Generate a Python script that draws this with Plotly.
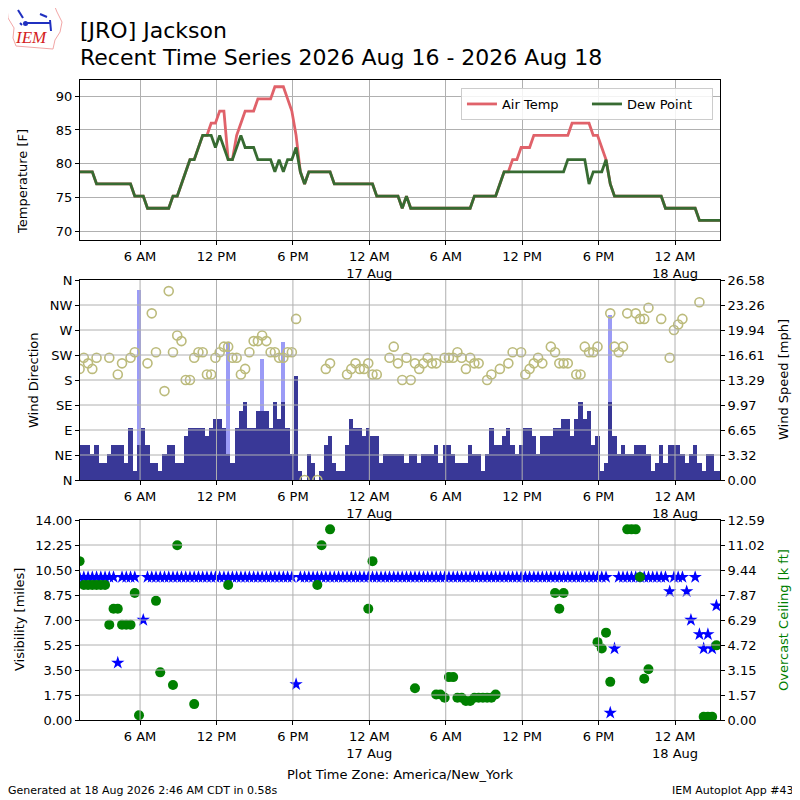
import pandas as pd
import plotly.graph_objects as go

N = None

# observations every 20 minutes, 2026-08-16 01:15 EDT onward
obs_times = pd.date_range("2026-08-16 01:15", periods=152, freq="20min")
x_range = ["2026-08-16 01:17", "2026-08-18 03:32"]

tick_vals = ["2026-08-16 06:00", "2026-08-16 12:00", "2026-08-16 18:00",
             "2026-08-17 00:00", "2026-08-17 06:00", "2026-08-17 12:00",
             "2026-08-17 18:00", "2026-08-18 00:00"]
tick_text = ["6 AM", "12 PM", "6 PM", "12 AM<br>17 Aug",
             "6 AM", "12 PM", "6 PM", "12 AM<br>18 Aug"]

air_temp = [
    78.8, 78.8, 78.8, 78.8, 77, 77, 77, 77, 77, 77,
    77, 77, 77, 75.2, 75.2, 75.2, 73.4, 73.4, 73.4, 73.4,
    73.4, 73.4, 75.2, 75.2, 77, 78.8, 80.6, 80.6, 82.4, 84.2,
    84.2, 86, 86, 87.8, 87.8, 80.6, 80.6, 84.2, 86, 87.8,
    87.8, 87.8, 89.6, 89.6, 89.6, 89.6, 91.4, 91.4, 91.4, 89.6,
    87.8, 84.2, 78.8, 77, 78.8, 78.8, 78.8, 78.8, 78.8, 78.8,
    77, 77, 77, 77, 77, 77, 77, 77, 77, 77,
    75.2, 75.2, 75.2, 75.2, 75.2, 75.2, 73.4, 75.2, 73.4, 73.4,
    73.4, 73.4, 73.4, 73.4, 73.4, 73.4, 73.4, 73.4, 73.4, 73.4,
    73.4, 73.4, 73.4, 75.2, 75.2, 75.2, 75.2, 75.2, 75.2, 77,
    78.8, 78.8, 80.6, 80.6, 82.4, 82.4, 82.4, 84.2, 84.2, 84.2,
    84.2, 84.2, 84.2, 84.2, 84.2, 84.2, 86, 86, 86, 86,
    86, 84.2, 84.2, 82.4, 80.6, 77, 75.2, 75.2, 75.2, 75.2,
    75.2, 75.2, 75.2, 75.2, 75.2, 75.2, 75.2, 75.2, 73.4, 73.4,
    73.4, 73.4, 73.4, 73.4, 73.4, 73.4, 71.6, 71.6, 71.6, 71.6,
    71.6, 71.6,
]

dew_point = [
    78.8, 78.8, 78.8, 78.8, 77, 77, 77, 77, 77, 77,
    77, 77, 77, 75.2, 75.2, 75.2, 73.4, 73.4, 73.4, 73.4,
    73.4, 73.4, 75.2, 75.2, 77, 78.8, 80.6, 80.6, 82.4, 84.2,
    84.2, 84.2, 82.4, 84.2, 82.4, 80.6, 80.6, 82.4, 84.2, 82.4,
    82.4, 82.4, 80.6, 80.6, 80.6, 80.6, 78.8, 80.6, 78.8, 80.6,
    80.6, 82.4, 78.8, 77, 78.8, 78.8, 78.8, 78.8, 78.8, 78.8,
    77, 77, 77, 77, 77, 77, 77, 77, 77, 77,
    75.2, 75.2, 75.2, 75.2, 75.2, 75.2, 73.4, 75.2, 73.4, 73.4,
    73.4, 73.4, 73.4, 73.4, 73.4, 73.4, 73.4, 73.4, 73.4, 73.4,
    73.4, 73.4, 73.4, 75.2, 75.2, 75.2, 75.2, 75.2, 75.2, 77,
    78.8, 78.8, 78.8, 78.8, 78.8, 78.8, 78.8, 78.8, 78.8, 78.8,
    78.8, 78.8, 78.8, 78.8, 78.8, 80.6, 80.6, 80.6, 80.6, 80.6,
    77, 78.8, 78.8, 78.8, 80.6, 77, 75.2, 75.2, 75.2, 75.2,
    75.2, 75.2, 75.2, 75.2, 75.2, 75.2, 75.2, 75.2, 73.4, 73.4,
    73.4, 73.4, 73.4, 73.4, 73.4, 73.4, 71.6, 71.6, 71.6, 71.6,
    71.6, 71.6,
]

wind_speed_mph = [
    4.6, 4.6, 4.6, 3.5, 4.6, 2.3, 2.3, 3.5, 4.6, 4.6,
    4.6, 2.3, 6.9, 1.2, 4.6, 6.9, 4.6, 2.3, 2.3, 1.2,
    3.5, 4.6, 4.6, 2.3, 2.3, 5.8, 6.9, 6.9, 6.9, 6.9,
    5.8, 6.9, 8.1, 8.1, 6.9, 3.5, 2.3, 6.9, 9.2, 10.4,
    6.9, 6.9, 9.2, 9.2, 9.2, 6.9, 10.4, 8.1, 10.4, 6.9,
    3.5, 13.8, 1.2, 0.0, 3.5, 2.3, 0.0, 1.2, 4.6, 5.8,
    2.3, 1.2, 1.2, 4.6, 8.1, 6.9, 6.9, 5.8, 6.9, 5.8,
    5.8, 2.3, 3.5, 3.5, 3.5, 3.5, 3.5, 2.3, 3.5, 3.5,
    2.3, 3.5, 3.5, 3.5, 4.6, 2.3, 4.6, 4.6, 3.5, 2.3,
    2.3, 2.3, 4.6, 3.5, 3.5, 1.2, 3.5, 6.9, 4.6, 4.6,
    5.8, 6.9, 4.6, 3.5, 4.6, 6.9, 6.9, 5.8, 3.5, 5.8,
    5.8, 5.8, 6.9, 6.9, 8.1, 8.1, 5.8, 8.1, 10.4, 8.1,
    9.2, 4.6, 5.8, 1.2, 2.3, 10.4, 5.8, 3.5, 4.6, 3.5,
    3.5, 4.6, 4.6, 4.6, 3.5, 1.2, 2.3, 4.6, 2.3, 4.6,
    4.6, 4.6, 3.5, 2.3, 3.5, 4.6, 2.3, 1.2, 3.5, 3.5,
    1.2, 1.2,
]

wind_gust_mph = [
    N, N, N, N, N, N, N, N, N, N,
    N, N, N, N, 25.3, N, N, N, N, N,
    N, N, N, N, N, N, N, N, N, N,
    N, N, N, N, N, 18.4, N, N, N, N,
    N, N, N, 16.1, N, N, N, N, 18.4, N,
    N, N, N, N, N, N, N, N, N, N,
    N, N, N, N, N, N, N, N, N, N,
    N, N, N, N, N, N, N, N, N, N,
    N, N, N, N, N, N, N, N, N, N,
    N, N, N, N, N, N, N, N, N, N,
    N, N, N, N, N, N, N, N, N, N,
    N, N, N, N, N, N, N, N, N, N,
    N, N, N, N, N, 21.9, N, N, N, N,
    N, N, N, N, N, N, N, N, N, N,
    N, N, N, N, N, N, N, N, N, N,
    N, N,
]

wind_dir = [
    200, 220, 210, 200, 220, N, N, 220, N, 190,
    210, N, 220, 230, N, N, 210, 300, 230, N,
    160, 340, 230, 260, 250, 180, 180, 220, 230, 230,
    190, 190, 220, 230, 240, 240, 220, 220, 190, 200,
    230, 250, 250, 260, 250, 230, 230, 220, 220, 230,
    230, 290, N, 0, N, N, 0, N, 200, 210,
    N, N, N, 190, 200, 210, 200, 200, 210, 190,
    190, N, N, 220, 240, 210, 180, 220, 180, 210,
    200, 210, 220, 210, 210, N, 220, 220, 220, 230,
    220, 200, 220, 210, 210, N, 180, 190, N, 200,
    N, 210, 230, N, 230, 190, 200, 210, 220, 210,
    N, 240, 230, 210, 210, 210, N, 190, 190, 240,
    230, 230, 240, N, N, 300, 240, 230, 240, 300,
    N, 300, 290, 290, 310, N, N, 290, N, 220,
    270, 280, 290, N, N, N, 320, N, N, N,
    N, N,
]

visibility = [
    10, 10, 10, 10, 10, 10, 10, 10, 10, 4,
    10, 10, 10, 10, N, 7, 10, 10, 10, 10,
    10, 10, 10, 10, 10, 10, 10, 10, 10, 10,
    10, 10, 10, 10, 10, 10, 10, 10, 10, 10,
    10, 10, 10, 10, 10, 10, 10, 10, 10, 10,
    10, 2.5, 10, 10, 10, 10, 10, 10, 10, 10,
    10, 10, 10, 10, 10, 10, 10, 10, 10, 10,
    10, 10, 10, 10, 10, 10, 10, 10, 10, 10,
    10, 10, 10, 10, 10, 10, 10, 10, 10, 10,
    10, 10, 10, 10, 10, 10, 10, 10, 10, 10,
    10, 10, 10, 10, 10, 10, 10, 10, 10, 10,
    10, 10, 10, 10, 10, 10, 10, 10, 10, 10,
    10, 10, 10, 10, 10, 0.5, 5, 10, 10, 10,
    10, 10, 10, 10, 10, 10, 10, 10, 10, 9,
    10, 10, 10, 9, 7, 10, 6, 5, 6, 5,
    8, N,
]

ceiling_kft = [
    10.0, 8.5, 8.5, 8.5, 8.5, 8.5, 8.5, 6.0, 7.0, 7.0,
    6.0, 6.0, 6.0, 8.0, 0.3, N, N, N, 7.5, 3.0,
    N, N, 2.2, 11.0, N, N, N, 1.0, N, N,
    N, N, N, N, N, 8.5, N, N, N, N,
    N, N, N, N, N, N, N, N, N, N,
    N, N, N, N, N, N, 8.5, 11.0, N, 12.0,
    N, N, N, N, N, N, N, N, 7.0, 10.0,
    N, N, N, N, N, N, N, N, N, 2.0,
    N, N, N, N, 1.6, 1.6, 1.4, 2.7, 2.7, 1.4,
    1.4, 1.2, 1.2, 1.4, 1.4, 1.4, 1.4, 1.4, 1.6, N,
    N, N, N, N, N, N, N, N, N, N,
    N, N, 8.0, 7.0, 8.0, N, N, N, N, N,
    N, N, 4.9, 4.5, 5.5, 2.4, N, N, N, 12.0,
    12.0, 12.0, 9.0, 2.6, 3.2, N, N, N, N, N,
    N, N, N, N, N, N, N, 0.2, 0.2, 0.2,
    4.7, N,
]

temp_ticks = [70, 75, 80, 85, 90]
dir_ticks = [0, 45, 90, 135, 180, 225, 270, 315, 360]
dir_labels = ["N", "NE", "E", "SE", "S", "SW", "W", "NW", "N"]
speed_labels = ["0.00", "3.32", "6.65", "9.97", "13.29", "16.61", "19.94", "23.26", "26.58"]
vis_labels = ["0.00", "1.75", "3.50", "5.25", "7.00", "8.75", "10.50", "12.25", "14.00"]
ceil_labels = ["0.00", "1.57", "3.15", "4.72", "6.29", "7.87", "9.44", "11.02", "12.59"]

SPEED_MAX = 26.58
CEIL_MAX = 12.59
FONT = "DejaVu Sans"
GRID = "#b0b0b0"

# the page body has an 8px margin, so the figure is 792 px and starts at (8, 8);
# plot area is then pixels 80..720 in both directions
PAGE_OFF = 8


def px(x, y):
    """pixel position in the 800x800 page -> paper coords"""
    return (x - 80) / 640, (720 - y) / 640


fig = go.Figure()

# --- temperatures
fig.add_trace(go.Scatter(x=obs_times, y=air_temp, mode="lines", name="Air Temp",
                         line=dict(color="#e0626a", width=2.8), xaxis="x", yaxis="y"))
fig.add_trace(go.Scatter(x=obs_times, y=dew_point, mode="lines", name="Dew Point",
                         line=dict(color="#376b32", width=2.8), xaxis="x", yaxis="y"))

# --- wind
bar_w = 20 * 60 * 1000
fig.add_trace(go.Bar(x=obs_times, y=wind_gust_mph, width=bar_w, marker_color="#9b9bf6",
                     marker_line_width=0, showlegend=False, xaxis="x2", yaxis="y2"))
fig.add_trace(go.Bar(x=obs_times, y=wind_speed_mph, width=bar_w, marker_color="#393897",
                     marker_line_width=0, showlegend=False, xaxis="x2", yaxis="y2"))
fig.add_trace(go.Scatter(x=obs_times, y=wind_dir, mode="markers", showlegend=False,
                         marker=dict(symbol="circle-open", size=9, color="#bcbb7c",
                                     line=dict(width=1.6, color="#bcbb7c")),
                         xaxis="x2", yaxis="y3"))

# --- visibility / ceiling
fig.add_trace(go.Scatter(x=obs_times, y=visibility, mode="markers", showlegend=False,
                         marker=dict(symbol="star", size=10, color="blue", line_width=0),
                         xaxis="x3", yaxis="y4"))
fig.add_trace(go.Scatter(x=obs_times, y=ceiling_kft, mode="markers", showlegend=False,
                         marker=dict(symbol="circle", size=10, color="green", line_width=0),
                         xaxis="x3", yaxis="y5"))

tickfont = dict(family=FONT, size=13, color="black")
xcommon = dict(type="date", range=x_range, tickmode="array", tickvals=tick_vals,
               ticktext=tick_text, ticks="outside", ticklen=4, tickcolor="black",
               showline=True, linecolor="black", mirror=True, tickfont=tickfont,
               zeroline=False)
ycommon = dict(ticks="outside", ticklen=4, tickcolor="black", showline=True,
               linecolor="black", tickfont=tickfont, zeroline=False)

fig.update_layout(
    width=800 - PAGE_OFF, height=800 - PAGE_OFF, autosize=False,
    margin=dict(l=80 - PAGE_OFF, r=80, t=80 - PAGE_OFF, b=80),
    paper_bgcolor="white", plot_bgcolor="white",
    barmode="overlay", bargap=0,
    font=dict(family=FONT, size=13, color="black"),
    xaxis=dict(xcommon, anchor="y", showgrid=True, gridcolor=GRID),
    xaxis2=dict(xcommon, anchor="y2", showgrid=False),
    xaxis3=dict(xcommon, anchor="y4", showgrid=False),
    yaxis=dict(ycommon, domain=[0.75, 1.0], range=[68.7, 92.4], tickvals=temp_ticks,
               mirror=True, showgrid=True, gridcolor=GRID, anchor="x"),
    yaxis2=dict(ycommon, domain=[0.375, 0.6875], range=[0, SPEED_MAX], side="right",
                tickmode="array", tickvals=[SPEED_MAX * k / 8 for k in range(9)],
                ticktext=speed_labels, showgrid=False, anchor="x2"),
    yaxis3=dict(ycommon, range=[0, 360], overlaying="y2", side="left", tickmode="array",
                tickvals=dir_ticks, ticktext=dir_labels, showgrid=False, anchor="x2"),
    yaxis4=dict(ycommon, domain=[0.0, 0.3125], range=[0, 14], tickmode="array",
                tickvals=[1.75 * k for k in range(9)], ticktext=vis_labels,
                showgrid=False, anchor="x3"),
    yaxis5=dict(ycommon, range=[0, CEIL_MAX], overlaying="y4", side="right",
                tickmode="array", tickvals=[CEIL_MAX * k / 8 for k in range(9)],
                ticktext=ceil_labels, showgrid=False, anchor="x3"),
    legend=dict(orientation="h", x=0.989, xanchor="right", y=0.9875, yanchor="top",
                bgcolor="rgba(255,255,255,0.85)", bordercolor="#cccccc", borderwidth=1,
                font=dict(family=FONT, size=13), itemwidth=30,
                entrywidth=80, entrywidthmode="pixels"),
)

# grid lines drawn above the bars/markers (matplotlib style) for lower panels
shapes = []
for xa, ya, yt in (("x2", "y2", [SPEED_MAX * k / 8 for k in range(1, 8)]),
                   ("x3", "y4", [1.75 * k for k in range(1, 8)])):
    for tv in tick_vals:
        shapes.append(dict(type="line", xref=xa, yref=ya + " domain", x0=tv, x1=tv,
                           y0=0, y1=1, line=dict(color=GRID, width=1), layer="above"))
    for v in yt:
        shapes.append(dict(type="line", xref=xa + " domain", yref=ya, x0=0, x1=1,
                           y0=v, y1=v, line=dict(color=GRID, width=1), layer="above"))

# IEM logo (rough outline of Iowa + lettering)
outline = [(7, 7), (55, 7), (57, 12), (62, 22), (60, 32), (55, 40), (53, 49),
           (16, 46), (13, 38), (14, 28), (8, 18)]
path = "M " + " L ".join(f"{px(a, b)[0]:.4f},{px(a, b)[1]:.4f}" for a, b in outline) + " Z"
shapes.append(dict(type="path", xref="paper", yref="paper", path=path,
                   line=dict(color="#f2a6a6", width=1), fillcolor="rgba(0,0,0,0)"))
for (a, b), (c, d) in (((25, 23), (50, 23)), ((18, 10), (23, 18)), ((40, 14), (47, 17)),
                       ((50, 20), (51, 31)), ((20, 23), (22, 25))):
    x0, y0 = px(a, b)
    x1, y1 = px(c, d)
    shapes.append(dict(type="line", xref="paper", yref="paper", x0=x0, y0=y0, x1=x1, y1=y1,
                       line=dict(color="#2030c0", width=2)))
cx0, cy0 = px(23, 21)
cx1, cy1 = px(28, 26)
shapes.append(dict(type="circle", xref="paper", yref="paper", x0=cx0, y0=cy0, x1=cx1, y1=cy1,
                   fillcolor="#2030c0", line_width=0))
fig.update_layout(shapes=shapes)


def note(text, x, y, size=13, color="black", angle=0, xanchor="center", family=FONT, **kw):
    px_, py_ = px(x, y)
    fig.add_annotation(text=text, x=px_, y=py_, xref="paper", yref="paper", showarrow=False,
                       textangle=angle, xanchor=xanchor, yanchor="middle",
                       font=dict(family=family, size=size, color=color), **kw)


note("[JRO] Jackson", 78, 31, size=22, xanchor="left")
note("Recent Time Series 2026 Aug 16 - 2026 Aug 18", 78, 57, size=22, xanchor="left")
note("<i>IEM</i>", 31, 37, size=17, color="#d42020", family="Liberation Serif")

note("Temperature [F]", 22, 182, angle=-90)
note("Wind Direction", 33, 380, angle=-90)
note("Wind Speed [mph]", 783, 380, angle=-90)
note("Visibility [miles]", 19, 620, angle=-90)
note("Overcast Ceiling [k ft]", 783, 620, angle=-90, color="green")
note("Plot Time Zone: America/New_York", 400, 774)
note("Generated at 18 Aug 2026 2:46 AM CDT in 0.58s", 6, 790, size=11, xanchor="left")
note("IEM Autoplot App #43", 796, 790, size=11, xanchor="right")

fig.write_html("out.html")
